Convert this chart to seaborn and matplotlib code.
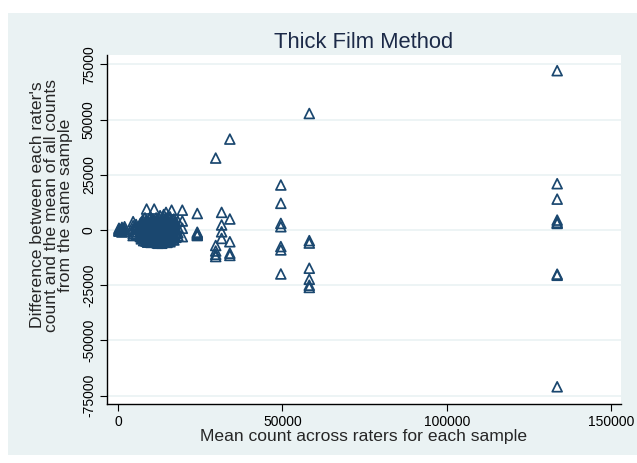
import numpy as np
import pandas as pd
import matplotlib
matplotlib.use("Agg")
import matplotlib.pyplot as plt
import seaborn as sns
from matplotlib.patches import Rectangle

# ---- data: one entry per rater reading ----
# mean count across raters for each sample (x), repeated per rater
sample_means = [
    300, 1200, 2000, 4600, 5500, 6800,
    7100, 7500, 7800, 8200, 8500, 8700, 9000, 9200, 9500, 9800, 10000,
    10300, 10600, 10800, 11000, 11300, 11600, 11900, 12200, 12500, 12800,
    13000, 13300, 13600, 13900, 14200, 14600, 14900, 15200, 15500, 15800,
    16000, 16300, 16700, 17000, 17600, 18200,
    19550, 24100, 29700, 31500, 34000, 49500, 58150, 133500,
]
# difference of each rater's count from the sample mean (y)
rater_diffs = [
    [800, 300, -200, -500],
    [1200, 500, -400, -900],
    [1500, 200, -600],
    [3800, 2000, 500, -1500, -2500],
    [2500, 1000, -800, -2000],
    [3000, 1200, -500, -1800, -3000],
    [3500, 1500, -300, -2200, -4000],
    [4500, 2000, 0, -1500, -3500],
    [2800, 700, -1200, -2800, -4800],
    [5500, 3000, 800, -1000, -2500, -4000],
    [4200, 1800, -600, -2000, -5000],
    [9500, 3500, 1000, -2000, -4000, -5000],
    [3200, 1000, -1000, -3300, -5500],
    [4000, 2500, 500, -1200, -3000, -4500],
    [5200, 2200, -200, -2600, -4600],
    [6000, 2800, 400, -1500, -3200, -4800],
    [3600, 1400, -800, -3600, -5600],
    [5000, 2000, -500, -2200, -4000],
    [4800, 1600, -1100, -3400, -5200],
    [4500, 3200, 1200, -800, -2800, -4500],
    [9500, 4000, 1500, -1000, -3500, -5000],
    [3900, 1100, -1400, -3000, -5400],
    [5500, 2500, 300, -1800, -3800],
    [4600, 2400, -200, -2700, -5800],
    [3800, 1800, -300, -2500, -4200, -6000],
    [5200, 2000, -700, -3300, -5000],
    [6500, 3000, 900, -1200, -3500],
    [4400, 1500, -1600, -3700, -5500],
    [4200, 2200, 0, -2000, -4000, -6000],
    [5800, 2600, -400, -2900, -4800],
    [7000, 3500, 1000, -1500, -3000, -4500],
    [4900, 1900, -900, -3200, -5300],
    [8000, 5500, 2500, 300, -2000, -4000],
    [4300, 1300, -1300, -3900, -5600],
    [4500, 2000, -800, -3000, -5000],
    [5600, 2700, 100, -2400, -4700],
    [6000, 3000, 500, -2000, -5300],
    [3400, 1200, -1100, -3100, -4400],
    [9000, 4000, 1500, -1000, -3500],
    [4700, 1700, -600, -2800, -4200],
    [5000, 2500, 0, -2500, -4500],
    [3600, 1000, -1500, -3300],
    [4000, 1200, -1200, -2600],
    [9000, 4100, 800, -3000],
    [7500, -1000, -1500, -2000, -2500],
    [32600, -7000, -9500, -11000, -12000],
    [8000, 2300, -800, -3800],
    [41200, 5000, -5300, -10500, -11500],
    [20400, 12100, 3000, 1500, -7500, -9000, -19900],
    [52800, -4800, -5900, -17300, -22300, -25000, -26000],
    [72200, 21000, 14000, 4500, 3500, 3000, -20000, -20500, -71000],
]

x_ticks = [0, 50000, 100000, 150000]
y_ticks = [-75000, -50000, -25000, 0, 25000, 50000, 75000]

df = pd.DataFrame(
    [(m, d) for m, ds in zip(sample_means, rater_diffs) for d in ds],
    columns=["mean_count", "diff"],
)

navy = "#1a476f"
region_bg = "#eaf2f3"

sns.set_theme(style="white")
plt.rcParams["font.family"] = ["Liberation Sans", "DejaVu Sans"]

fig = plt.figure(figsize=(6.37, 4.63), dpi=100)
fig.patch.set_facecolor("white")
# Stata-like graph region behind the plot region
fig.patches.append(Rectangle((8 / 637, 1 - 455 / 463), 1, (455 - 13) / 463,
                             transform=fig.transFigure, facecolor=region_bg,
                             edgecolor="none", zorder=-10))

ax = fig.add_axes([107 / 637, 1 - 404 / 463, (621 - 107) / 637, (404 - 55) / 463])
ax.set_facecolor("white")
ax.set_zorder(5)

sns.scatterplot(data=df, x="mean_count", y="diff", ax=ax, marker="^", s=50,
                facecolor="none", edgecolor=navy, linewidth=1.25, zorder=3)

ax.set_xlim(-3340, 152900)
ax.set_ylim(-78800, 79300)
ax.set_xticks(x_ticks)
ax.set_yticks(y_ticks)
ax.set_xticklabels([str(v) for v in x_ticks], fontsize=10)
ax.set_yticklabels([str(v) for v in y_ticks], fontsize=10, rotation=90, va="center")

for v in y_ticks:
    ax.axhline(v, color=region_bg, linewidth=1.2, zorder=1)

for side in ["top", "right"]:
    ax.spines[side].set_visible(False)
for side in ["left", "bottom"]:
    ax.spines[side].set_color("black")
    ax.spines[side].set_linewidth(1.0)

ax.tick_params(axis="both", direction="out", length=5, width=0.8, color="black",
               labelcolor="black", pad=3, bottom=True, left=True)

ax.set_xlabel("Mean count across raters for each sample", fontsize=12.6, labelpad=0)
ax.set_ylabel("Difference between each rater's\ncount and the mean of all counts\nfrom the same sample",
              fontsize=12.6, linespacing=0.9)
ax.yaxis.set_label_coords(-0.066, 0.57)
ax.set_title("Thick Film Method", fontsize=15.8, color="#1c2a48", pad=5)

fig.savefig("out.png", dpi=100, facecolor=fig.get_facecolor())
